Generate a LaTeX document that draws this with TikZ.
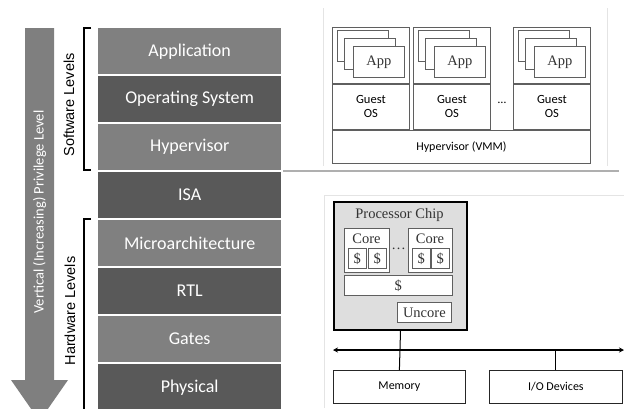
\documentclass[tikz,border=0pt]{standalone}
\usepackage{fontspec}
\setmainfont{Liberation Serif}
\setsansfont{Carlito}
\newfontfamily\arialfont{Liberation Sans}
\usepackage{tikz}
\usetikzlibrary{arrows.meta, positioning, calc}

\definecolor{layerLight}{RGB}{128,128,128}
\definecolor{layerDark}{RGB}{89,89,89}
\definecolor{arrowGray}{RGB}{127,127,127}
\definecolor{boxGray}{RGB}{95,95,95}
\definecolor{frameGray}{RGB}{228,228,228}
\definecolor{shadowGray}{RGB}{175,175,175}
\definecolor{chipFill}{RGB}{222,222,222}

\newcommand{\levelfont}{\sffamily\fontsize{18}{20}\selectfont}
\newcommand{\bracefont}{\arialfont\fontsize{14.5}{16}\selectfont}
\newcommand{\boxfont}{\sffamily\fontsize{12}{13.5}\selectfont}
\newcommand{\chipfont}{\rmfamily\fontsize{14.5}{16}\selectfont}

\begin{document}
\begin{tikzpicture}[x=1pt, y=-1pt,
  layer/.style={anchor=north west, minimum width=183pt, minimum height=46pt, inner sep=0pt, text=white, font=\levelfont},
  vmbox/.style={anchor=north west, draw=boxGray, fill=white, line width=0.8pt, inner sep=0pt},
  chipbox/.style={anchor=north west, draw=boxGray, fill=white, line width=0.7pt, inner sep=0pt, font=\chipfont, text=black!80},
  bus/.style={line width=1.1pt, {Stealth[length=5pt,width=5pt]}-{Stealth[length=5pt,width=5pt]}}]
\useasboundingbox (0,0) rectangle (624,408);

% Privilege arrow
\fill[arrowGray] (25,28) -- (54,28) -- (54,380) -- (68,380) -- (39.5,421) -- (11,380) -- (25,380) -- cycle;
\node[rotate=90, text=white, font=\sffamily\fontsize{14.5}{16}\selectfont] (privilege) at (39.5,212) {Vertical (Increasing) Privilege Level};

% Level stack
\foreach \name/\col [count=\i from 0] in {Application/layerLight, Operating System/layerDark, Hypervisor/layerLight, ISA/layerDark, Microarchitecture/layerLight, RTL/layerDark, Gates/layerLight, Physical/layerDark}
  \node[layer, fill=\col] (level\i) at (98,{28+48*\i}) {\name};

% Brackets
\draw[line width=1.2pt] (91,28) -- (84,28) -- (84,170) -- (91,170);
\draw[line width=1.2pt] (91,219) -- (84,219) -- (84,410);
\node[rotate=90, font=\bracefont] (swlevels) at (69,105) {Software Levels};
\node[rotate=90, font=\bracefont] (hwlevels) at (70,311) {Hardware Levels};

%% Virtual machines panel
\draw[frameGray, line width=0.8pt] (323,8) -- (323,166);
\draw[frameGray, line width=0.6pt] (607,8) -- (607,166);
\draw[shadowGray, line width=2pt] (283,171) -- (619,171);

\foreach \vm/\x in {A/332, B/413, C/513} {
  \node[vmbox, minimum width=77pt, minimum height=56pt] (vm\vm) at (\x,27) {};
  \node[vmbox, minimum width=51pt, minimum height=31pt] (backapp\vm) at (\x+5,30) {};
  \node[vmbox, minimum width=51pt, minimum height=31pt] (midapp\vm) at (\x+12,38) {};
  \node[vmbox, minimum width=51pt, minimum height=31pt, font=\chipfont, text=black!80] (app\vm) at (\x+21,46) {App};
  \node[vmbox, minimum width=77pt, minimum height=45pt, align=center, font=\sffamily\fontsize{12.5}{14}\selectfont] (guest\vm) at (vm\vm.south west) {Guest\\OS};
}
\node[font=\boxfont] (vmdots) at (502,103) {\dots};
\node[vmbox, minimum width=258pt, minimum height=33pt, font=\boxfont] (hyp) at (332,130) {Hypervisor (VMM)};

%% Processor chip panel
\draw[frameGray, line width=0.8pt] (324,408) -- (324,195) -- (624,195);

\node[anchor=north west, draw=black, fill=chipFill, line width=2pt, minimum width=133pt, minimum height=128pt, inner sep=0pt] (chip) at (333,201) {};
\node[font=\chipfont, text=black!80] (chiptitle) at (399.5,215) {Processor Chip};

\node[chipbox, minimum width=45pt, minimum height=44pt] (coreA) at (344,228) {};
\node[chipbox, minimum width=44pt, minimum height=44pt] (coreB) at (408,228) {};
\node[font=\chipfont, text=black!80] (coreAlabel) at (366.5,239) {Core};
\node[font=\chipfont, text=black!80] (coreBlabel) at (430,239) {Core};
\foreach \c/\x in {A1/348, A2/368, B1/412, B2/431}
  \node[chipbox, minimum width=18pt, minimum height=20pt] (cache\c) at (\x,248) {\$};
\node[font=\chipfont, text=black!80] (coredots) at (398.5,249) {\dots};
\node[chipbox, minimum width=108pt, minimum height=20pt] (shared) at (344,275) {\$};
\node[chipbox, minimum width=54pt, minimum height=20pt] (uncore) at (397,302) {Uncore};

% Bus and devices
\node[vmbox, draw=black!85, minimum width=132pt, minimum height=33pt, font=\boxfont] (mem) at (333,370) {Memory};
\node[vmbox, draw=black!85, minimum width=133pt, minimum height=33pt, font=\boxfont] (io) at (489,370) {I/O Devices};
\coordinate (busL) at (333,350);
\coordinate (busR) at (624,350);
\draw[bus] (busL) -- (busR);
\draw[line width=1pt] (chip.south) -- (mem.north);
\draw[line width=1pt] (io.north) -- (io.north |- busL);

\end{tikzpicture}
\end{document}
